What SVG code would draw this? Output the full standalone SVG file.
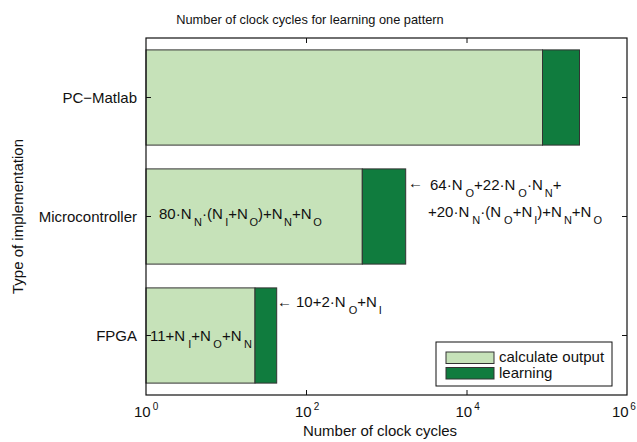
<svg xmlns="http://www.w3.org/2000/svg" width="637" height="442" viewBox="0 0 637 442">
<style>
text{font-family:"Liberation Sans",Arial,sans-serif;fill:#111;}
.t{font-size:15px;}
.title{font-size:12.8px;}
.sub{font-size:11px;}
.sup{font-size:10px;}
.calc{fill:#c6e2b9;stroke:#333;stroke-width:1;}
.learn{fill:#107c3e;stroke:#333;stroke-width:1;}
.ax{fill:none;stroke:#111;stroke-width:1.2;}
.tick{stroke:#111;stroke-width:1;}
</style>
<rect width="637" height="442" fill="#fff"/>
<text class="title" x="310" y="24" text-anchor="middle">Number of clock cycles for learning one pattern</text>

<g id="pc-matlab">
<rect class="calc" x="146" y="49.9" width="396.5" height="95.2"/>
<rect class="learn" x="542.5" y="49.9" width="37" height="95.2"/>
<text class="t" x="137" y="103" text-anchor="end">PC−Matlab</text>
</g>

<g id="microcontroller">
<rect class="calc" x="146" y="168.9" width="216.3" height="95.2"/>
<rect class="learn" x="362.3" y="168.9" width="43.4" height="95.2"/>
<text class="t" x="137" y="222" text-anchor="end">Microcontroller</text>
<text class="t" x="159" y="219">80·N<tspan class="sub" dx="2.5" dy="7">N</tspan><tspan dy="-7">·(N</tspan><tspan class="sub" dx="2.5" dy="7">I</tspan><tspan dy="-7">+N</tspan><tspan class="sub" dx="1.5" dy="7">O</tspan><tspan dy="-7">)+N</tspan><tspan class="sub" dx="1.5" dy="7">N</tspan><tspan dy="-7">+N</tspan><tspan class="sub" dx="1.5" dy="7">O</tspan></text>
<text class="t" x="408" y="188">←</text>
<text class="t" x="430" y="190">64·N<tspan class="sub" dx="3" dy="7">O</tspan><tspan dy="-7">+22·N</tspan><tspan class="sub" dx="3" dy="7">O</tspan><tspan dy="-7">·N</tspan><tspan class="sub" dx="2" dy="7">N</tspan><tspan dy="-7">+</tspan></text>
<text class="t" x="428" y="217">+20·N<tspan class="sub" dx="3" dy="7">N</tspan><tspan dy="-7">·(N</tspan><tspan class="sub" dx="3" dy="7">O</tspan><tspan dy="-7">+N</tspan><tspan class="sub" dx="2" dy="7">I</tspan><tspan dy="-7">)+N</tspan><tspan class="sub" dx="2" dy="7">N</tspan><tspan dy="-7">+N</tspan><tspan class="sub" dx="2" dy="7">O</tspan></text>
</g>

<g id="fpga">
<rect class="calc" x="146" y="287.9" width="109" height="95.2"/>
<rect class="learn" x="255" y="287.9" width="21.7" height="95.2"/>
<text class="t" x="137" y="341" text-anchor="end">FPGA</text>
<text class="t" x="150" y="341">11+N<tspan class="sub" dx="3" dy="7">I</tspan><tspan dy="-7">+N</tspan><tspan class="sub" dx="2.5" dy="7">O</tspan><tspan dy="-7">+N</tspan><tspan class="sub" dx="2.5" dy="7">N</tspan></text>
<text class="t" x="277" y="307">←</text>
<text class="t" x="296" y="307">10+2·N<tspan class="sub" dx="3" dy="7">O</tspan><tspan dy="-7">+N</tspan><tspan class="sub" dx="2" dy="7">I</tspan></text>
</g>

<g id="axes">
<rect class="ax" x="146" y="38" width="481" height="357"/>
<line class="tick" x1="306.5" y1="395" x2="306.5" y2="390"/>
<line class="tick" x1="467" y1="395" x2="467" y2="390"/>
<line class="tick" x1="306.5" y1="38" x2="306.5" y2="43"/>
<line class="tick" x1="467" y1="38" x2="467" y2="43"/>
<line class="tick" x1="146" y1="97.5" x2="151" y2="97.5"/>
<line class="tick" x1="146" y1="216.5" x2="151" y2="216.5"/>
<line class="tick" x1="146" y1="335.5" x2="151" y2="335.5"/>
<line class="tick" x1="627" y1="97.5" x2="622" y2="97.5"/>
<line class="tick" x1="627" y1="216.5" x2="622" y2="216.5"/>
<line class="tick" x1="627" y1="335.5" x2="622" y2="335.5"/>
<text class="t" x="134" y="417">10<tspan class="sup" dx="2" dy="-7">0</tspan></text>
<text class="t" x="295" y="417">10<tspan class="sup" dx="2" dy="-7">2</tspan></text>
<text class="t" x="455.5" y="417">10<tspan class="sup" dx="2" dy="-7">4</tspan></text>
<text class="t" x="612" y="417">10<tspan class="sup" dx="1.5" dy="-7">6</tspan></text>
<text class="t" x="380" y="436" text-anchor="middle">Number of clock cycles</text>
<text class="t" transform="translate(23,216.5) rotate(-90)" text-anchor="middle">Type of implementation</text>
</g>

<g id="legend">
<rect x="436" y="342" width="176" height="44" fill="#fff" stroke="#111" stroke-width="1"/>
<rect class="calc" x="446" y="352" width="48" height="11.5"/>
<rect class="learn" x="446" y="367.5" width="48" height="11.5"/>
<text class="t" x="499" y="362">calculate output</text>
<text class="t" x="499" y="378">learning</text>
</g>
</svg>
